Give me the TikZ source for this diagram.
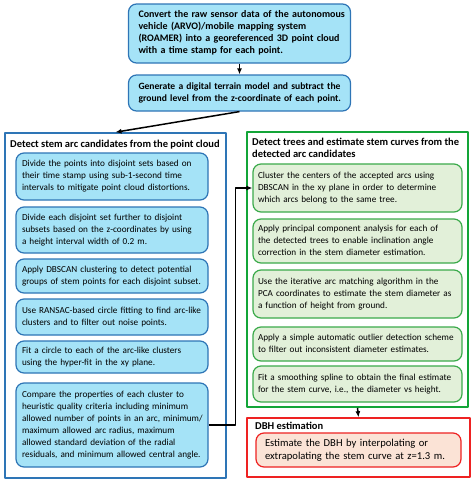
\documentclass[tikz,border=0pt]{standalone}
\usepackage{fontspec}
\setmainfont{Carlito}
\usetikzlibrary{arrows.meta}
\definecolor{bluefill}{HTML}{A5E3F7}
\definecolor{blueline}{HTML}{2E75B6}
\definecolor{greenfill}{HTML}{E2F0D9}
\definecolor{greenline}{HTML}{3BAA4B}
\definecolor{greenframe}{HTML}{13A538}
\definecolor{redfill}{HTML}{FBE3D6}
\definecolor{redline}{HTML}{EE2222}
\newcommand{\textlines}[1]{\begin{tabular}{@{}l@{}}#1\end{tabular}}
\tikzset{
	box/.style={rounded corners=8pt, line width=1.2pt, inner xsep=6pt, inner ysep=0pt, align=left, font=\fontsize{9.2}{12}\selectfont},
	bluebox/.style={box, draw=blueline, fill=bluefill},
	greenbox/.style={box, draw=greenline, fill=greenfill, inner xsep=5pt},
	redbox/.style={box, draw=redline, fill=redfill},
	frame/.style={draw, line width=1.6pt, fill=white, inner sep=0pt},
	heading/.style={font=\bfseries\fontsize{10.5}{12}\selectfont, align=left, inner sep=0pt},
}
\begin{document}
\begin{tikzpicture}[x=1pt, y=-1pt, line join=round, >={Latex[length=6pt,width=5pt]}]
			\useasboundingbox (0,0) rectangle (474,482);
			% top of the chain
			\node at (239.5,33.5) [bluebox, font=\bfseries\fontsize{10}{12}\selectfont, minimum width=222pt, minimum height=59pt, text width=202pt, inner xsep=10pt] (raw) {\textlines{Convert the raw sensor data of the autonomous\\ vehicle (ARVO)/mobile mapping system\\ (ROAMER) into a georeferenced 3D point cloud\\ with a time stamp for each point.}};
			\node at (239.5,93) [bluebox, font=\bfseries\fontsize{9.6}{12}\selectfont, minimum width=222pt, minimum height=36pt, text width=202pt, inner xsep=10pt] (dtm) {\textlines{Generate a digital terrain model and subtract the\\ ground level from the z-coordinate of each point.}};
			% arc candidates
			\node at (115.5,305.5) [frame, draw=blueline, minimum width=221pt, minimum height=345pt] (arcs) {};
			\node at (10,145) [heading, anchor=west] (arcstitle) {Detect stem arc candidates from the point cloud};
			\node at (112,176.5) [bluebox, minimum width=192pt, minimum height=47pt, text width=180pt] (b1) {\textlines{Divide the points into disjoint sets based on\\ their time stamp using sub-1-second time\\ intervals to mitigate point cloud distortions.}};
			\node at (112,230) [bluebox, minimum width=192pt, minimum height=46pt, text width=180pt] (b2) {\textlines{Divide each disjoint set further to disjoint\\ subsets based on the z-coordinates by using\\ a height interval width of 0.2 m.}};
			\node at (112,276) [bluebox, minimum width=192pt, minimum height=34pt, text width=180pt] (b3) {\textlines{Apply DBSCAN clustering to detect potential\\ groups of stem points for each disjoint subset.}};
			\node at (112,317) [bluebox, minimum width=192pt, minimum height=36pt, text width=180pt] (b4) {\textlines{Use RANSAC-based circle fitting to find arc-like\\ clusters and to filter out noise points.}};
			\node at (112,357) [bluebox, minimum width=192pt, minimum height=32pt, text width=180pt] (b5) {\textlines{Fit a circle to each of the arc-like clusters\\ using the hyper-fit in the xy plane.}};
			\node at (112,425) [bluebox, minimum width=192pt, minimum height=84pt, text width=180pt] (b6) {\textlines{Compare the properties of each cluster to\\ heuristic quality criteria including minimum\\ allowed number of points in an arc, minimum/\\ maximum allowed arc radius, maximum\\ allowed standard deviation of the radial\\ residuals, and minimum allowed central angle.}};
			% trees and stem curves
			\node at (357.5,269.5) [frame, draw=greenframe, minimum width=221pt, minimum height=275pt] (trees) {};
			\node at (252,137) [heading, anchor=north west] (treestitle) {\textlines{Detect trees and estimate stem curves from the\\ detected arc candidates}};
			\node at (357.5,188) [greenbox, minimum width=209pt, minimum height=48pt, text width=199pt] (g1) {\textlines{Cluster the centers of the accepted arcs using\\ DBSCAN in the xy plane in order to determine\\ which arcs belong to the same tree.}};
			\node at (357.5,241) [greenbox, minimum width=209pt, minimum height=44pt, text width=199pt] (g2) {\textlines{Apply principal component analysis for each of\\ the detected trees to enable inclination angle\\ correction in the stem diameter estimation.}};
			\node at (357.5,294) [greenbox, minimum width=209pt, minimum height=48pt, text width=199pt] (g3) {\textlines{Use the iterative arc matching algorithm in the\\ PCA coordinates to estimate the stem diameter as\\ a function of height from ground.}};
			\node at (357.5,344) [greenbox, minimum width=209pt, minimum height=34pt, text width=199pt] (g4) {\textlines{Apply a simple automatic outlier detection scheme\\ to filter out inconsistent diameter estimates.}};
			\node at (357.5,384) [greenbox, minimum width=209pt, minimum height=36pt, text width=199pt] (g5) {\textlines{Fit a smoothing spline to obtain the final estimate\\ for the stem curve, i.e., the diameter vs height.}};
			% DBH
			\node at (358.5,447.5) [frame, draw=redline, minimum width=223pt, minimum height=59pt] (dbh) {};
			\node at (255,426) [heading, anchor=west] (dbhtitle) {DBH estimation};
			\node at (358.5,450) [redbox, font=\fontsize{10.6}{13}\selectfont, minimum width=205pt, minimum height=34pt, text width=187pt, inner xsep=9pt] (r1) {\textlines{Estimate the DBH by interpolating or\\ extrapolating the stem curve at z=1.3 m.}};
			% connectors
			\draw[->, line width=1.5pt] (raw.south) -- (dtm.north);
			\draw[->, line width=1.5pt] (dtm.south) -- (arcs.north);
			\draw[->, line width=1.5pt] (b6.east) -- ++(27,0) |- (g1.west);
			\draw[->, line width=1.5pt] (trees.south) -- (dbh.north);
		\end{tikzpicture}
\end{document}
